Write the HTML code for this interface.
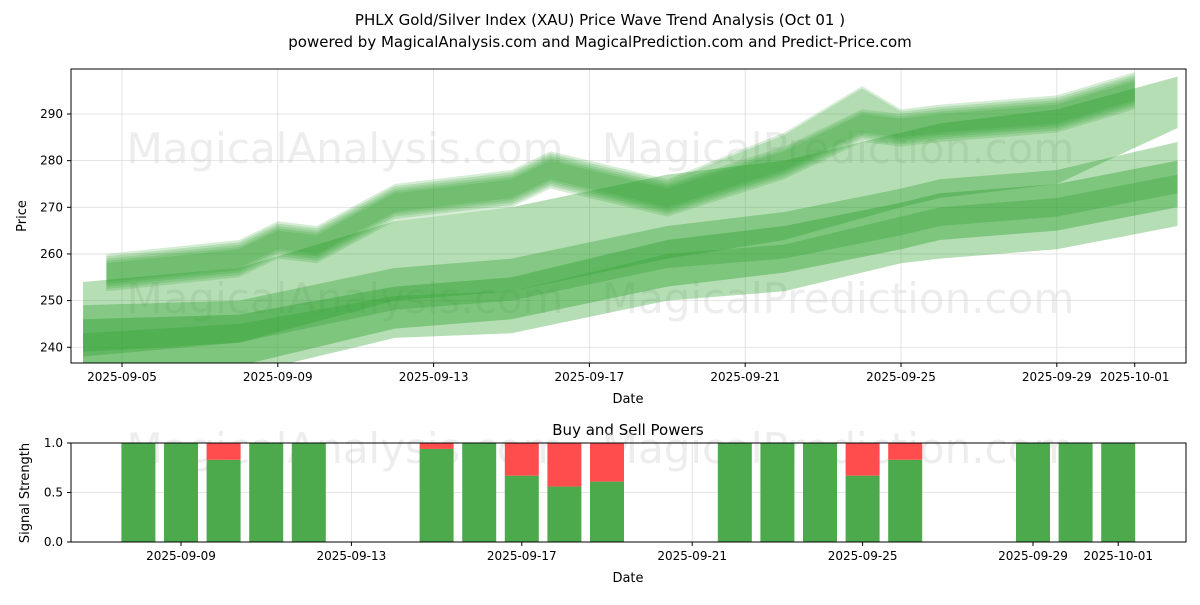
<!DOCTYPE html>
<html><head><meta charset="utf-8"><style>
body{margin:0;background:#fff;font-family:"Liberation Sans","DejaVu Sans",sans-serif}
svg text{font-family:"DejaVu Sans","Liberation Sans",sans-serif}
</style></head><body>
<svg id="c" width="1200" height="600" xmlns="http://www.w3.org/2000/svg"></svg>
<script>
const bandDays=[4.0,8,12,15,19,22,25,26,29,32.1];
const bandATop=[254,257,267,270,277,280,286,288,291,298];
const bandABot=[238,241,250,252,259,263,270,272,275,287];
const bandBTop=[249,250,257,259,266,269,274,276,278,284];
const bandBBot=[233,234,242,243,250,252,258,259,261,266];
const bandCTop=[246,247,253,255,263,266,271,273,275,280];
const bandCBot=[236,236,244,246,253,256,261,263,265,270];
const bandDTop=[243,245,251,252,260,262,268,270,272,277];
const bandDBot=[239,241,248,250,257,259,264,266,268,273];
const waveDays=[4.6,8,9,10,12,15,16,17,19,22,24,25,26,29,31];
const waveCenter=[256,259,263,262,271,274,278,276,272,280,288,287,288,290,295];
const waveOffsets=[0,1,-1,0.5,-0.5];
const wavePeakBoost=[0,0,0,0,0,0,0,0,0,2,4,0,0,0,0];
const barDates=[8,9,10,11,12,15,16,17,18,19,22,23,24,25,26,29,30,31];
const buyPower=[1,1,0.83,1,1,0.94,1,0.67,0.56,0.61,1,1,1,0.67,0.83,1,1,1];
const yTicks=[240,250,260,270,280,290];
const xTickDays=[5,9,13,17,21,25,29,31];
const xTickLabels=['2025-09-05','2025-09-09','2025-09-13','2025-09-17','2025-09-21','2025-09-25','2025-09-29','2025-10-01'];
const bTickDays=[9,13,17,21,25,29,31];
const bTickLabels=['2025-09-09','2025-09-13','2025-09-17','2025-09-21','2025-09-25','2025-09-29','2025-10-01'];
const sTicks=[0,0.5,1];
const sTickLabels=['0.0','0.5','1.0'];

const svg=document.getElementById('c');
const NS='http://www.w3.org/2000/svg';
function mk(t,a,p){const e=document.createElementNS(NS,t);for(const k in a)e.setAttribute(k,a[k]);(p||svg).appendChild(e);return e;}
const X=d=>122+(d-5)*38.95;
const Y=v=>114+(290-v)*4.665;
const XB=d=>181+(d-9)*42.6;
const YB=v=>542-v*99;

function txt(x,y,s,o){const e=mk('text',Object.assign({x:x,y:y,'font-size':12,fill:'#000'},o||{}));e.textContent=s;return e;}
let t=txt(600,25,'PHLX Gold/Silver Index (XAU) Price Wave Trend Analysis (Oct 01 )',{'font-size':15,'text-anchor':'middle'});

t=txt(600,47,'powered by MagicalAnalysis.com and MagicalPrediction.com and Predict-Price.com',{'font-size':15,'text-anchor':'middle'});


const clipDefs=mk('defs',{});
const cp=mk('clipPath',{id:'cp'},clipDefs);mk('rect',{x:71,y:69,width:1115,height:294},cp);
const gTop=mk('g',{});

yTicks.forEach(v=>mk('line',{x1:71,x2:1186,y1:Y(v),y2:Y(v),stroke:'#ddd','stroke-width':0.8},gTop));
xTickDays.forEach(d=>mk('line',{x1:X(d),x2:X(d),y1:69,y2:363,stroke:'#ddd','stroke-width':0.8},gTop));
[[345,150],[838,150],[345,300],[838,300]].forEach((p,i)=>{const w=txt(p[0],p[1]+13,i%2?'MagicalPrediction.com':'MagicalAnalysis.com',{'font-size':42,fill:'#ccc','fill-opacity':0.35,'text-anchor':'middle'});});

const gB=mk('g',{'clip-path':'url(#cp)'});

function band(days,top,bot,op,name){let pts=days.map((d,i)=>X(d)+','+Y(top[i]));for(let i=days.length-1;i>=0;i--)pts.push(X(days[i])+','+Y(bot[i]));const p=mk('polygon',{points:pts.join(' '),fill:'#2ca02c','fill-opacity':op},gB);}
band(bandDays,bandATop,bandABot,0.35,'band-a');
band(bandDays,bandBTop,bandBBot,0.35,'band-b');
band(bandDays,bandCTop,bandCBot,0.4,'band-c');
band(bandDays,bandDTop,bandDBot,0.3,'band-d');
waveOffsets.forEach((o,k)=>{
  const top=waveCenter.map((v,i)=>v+o+3+wavePeakBoost[i]*(k%2));
  const bot=waveCenter.map((v,i)=>v+o-3);
  band(waveDays,top,bot,0.2,'wave-band');
});
mk('rect',{x:71,y:69,width:1115,height:294,fill:'none',stroke:'#000','stroke-width':1});
const yl=mk('g',{});
yTicks.forEach(v=>{mk('line',{x1:67,x2:71,y1:Y(v),y2:Y(v),stroke:'#000'},yl);txt(63,Y(v)+4,String(v),{'text-anchor':'end'});});
const xl=mk('g',{});
xTickDays.forEach((d,i)=>{mk('line',{x1:X(d),x2:X(d),y1:363,y2:367,stroke:'#000'},xl);txt(X(d),381,xTickLabels[i],{'text-anchor':'middle'});});
t=txt(628,403,'Date',{'text-anchor':'middle','font-size':13});
t=txt(26,216,'Price',{'text-anchor':'middle','font-size':13,transform:'rotate(-90 26 216)'});

t=txt(628,435,'Buy and Sell Powers',{'text-anchor':'middle','font-size':15});
const gBg=mk('g',{});
sTicks.forEach(v=>mk('line',{x1:71,x2:1186,y1:YB(v),y2:YB(v),stroke:'#ddd','stroke-width':0.8},gBg));
bTickDays.forEach(d=>mk('line',{x1:XB(d),x2:XB(d),y1:443,y2:542,stroke:'#ddd','stroke-width':0.8},gBg));
[[345,450],[838,450]].forEach((p,i)=>{const w=txt(p[0],p[1]+13,i?'MagicalPrediction.com':'MagicalAnalysis.com',{'font-size':42,fill:'#ccc','fill-opacity':0.35,'text-anchor':'middle'});});
const gBars=mk('g',{});
barDates.forEach((d,i)=>{
  const x=XB(d)-17,b=buyPower[i];
  const g=mk('rect',{x:x,y:YB(b),width:34,height:YB(0)-YB(b),fill:'#4caa4c'},gBars);
  
  if(b<1){const r=mk('rect',{x:x,y:YB(1),width:34,height:YB(b)-YB(1),fill:'#ff4d4d'},gBars);
  }
});
mk('rect',{x:71,y:443,width:1115,height:99,fill:'none',stroke:'#000','stroke-width':1});
sTicks.forEach((v,i)=>{mk('line',{x1:67,x2:71,y1:YB(v),y2:YB(v),stroke:'#000'});txt(63,YB(v)+4,sTickLabels[i],{'text-anchor':'end'});});
bTickDays.forEach((d,i)=>{mk('line',{x1:XB(d),x2:XB(d),y1:542,y2:546,stroke:'#000'});txt(XB(d),560,bTickLabels[i],{'text-anchor':'middle'});});
t=txt(628,582,'Date',{'text-anchor':'middle','font-size':13});
t=txt(29,493,'Signal Strength',{'text-anchor':'middle','font-size':13,transform:'rotate(-90 29 493)'});
</script>
</body></html>
